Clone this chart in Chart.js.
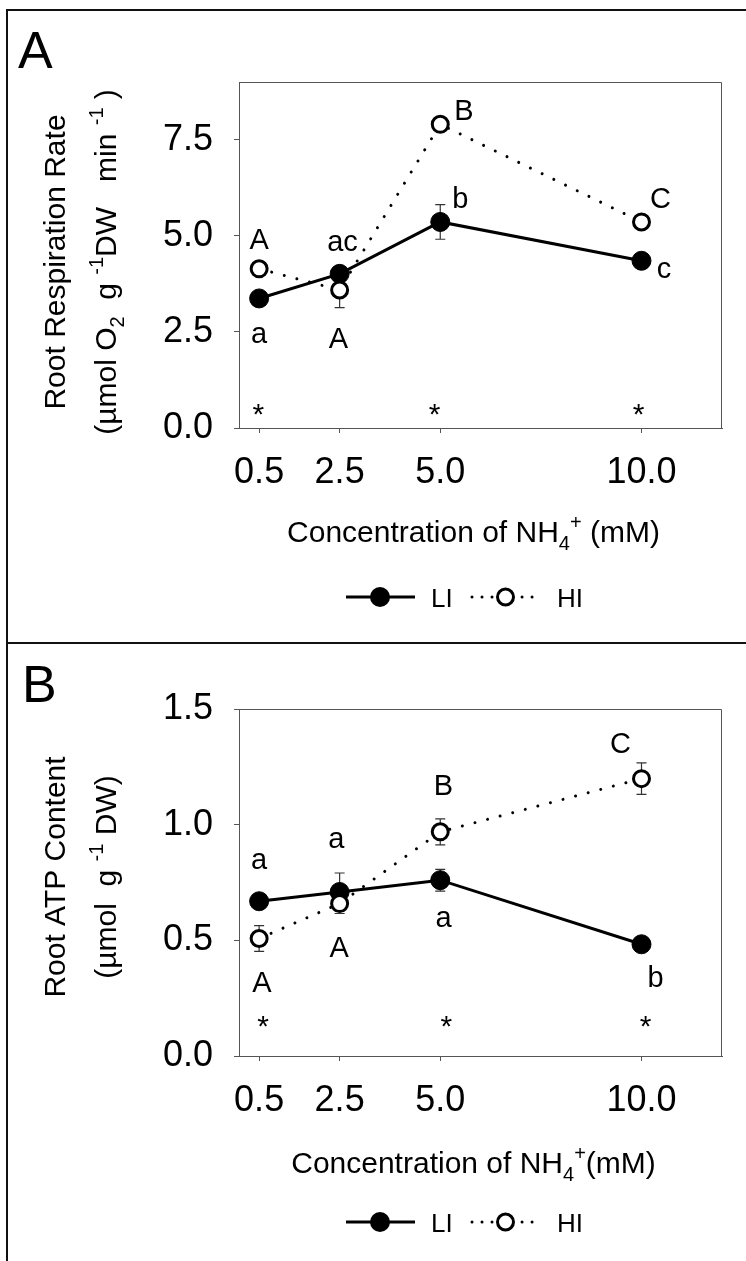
<!DOCTYPE html>
<html>
<head>
<meta charset="utf-8">
<script src="https://cdn.jsdelivr.net/npm/chart.js@4.4.1/dist/chart.umd.min.js"></script>
<style>
  html, body { margin: 0; padding: 0; background: #fff; }
  body { width: 746px; height: 1261px; position: relative; overflow: hidden; }
  .frame { position: absolute; left: 6px; top: 9px; width: 800px; height: 1300px; border-left: 2px solid #111; border-top: 2px solid #111; }
  .divider { position: absolute; left: 6px; top: 642px; width: 800px; height: 2px; background: #111; }
  canvas { position: absolute; left: 0; }
  #chart-a { top: 0; }
  #chart-b { top: 643px; }
</style>
</head>
<body>
<div class="frame"></div>
<div class="divider"></div>
<canvas id="chart-a" width="746" height="643"></canvas>
<canvas id="chart-b" width="746" height="618"></canvas>
<script>
const FONT = "'Liberation Sans', Arial, sans-serif";
const AXIS = "#555";

// NH4+ concentrations (mM), shared by both panels
const concentrations = [0.5, 2.5, 5.0, 10.0];
const xTickValues = [0.5, 2.5, 5.0, 10.0];

// A: root respiration rate
const respLI = [3.37, 4.01, 5.36, 4.35];
const respHI = [4.14, 3.59, 7.90, 5.36];
const respLIErr = [0.12, 0.15, 0.45, 0.10];
const respHIErr = [0.10, 0.46, 0.15, 0.12];
const respYTicks = [0, 2.5, 5.0, 7.5];
const respLetters = [
  ["A", 0.5, 4.66], ["ac", 2.57, 4.61], ["a", 0.5, 2.22], ["A", 2.47, 2.09],
  ["B", 5.59, 8.01], ["b", 5.5, 5.73], ["C", 10.47, 5.73], ["c", 10.56, 3.91],
];
const respStars = [[0.48, 0.1], [4.86, 0.1], [9.93, 0.1]];

// B: root ATP content
const atpLI = [0.669, 0.709, 0.760, 0.483];
const atpHI = [0.508, 0.659, 0.969, 1.199];
const atpLIErr = [0.02, 0.082, 0.047, 0.02];
const atpHIErr = [0.056, 0.043, 0.056, 0.068];
const atpYTicks = [0, 0.5, 1.0, 1.5];
const atpLetters = [
  ["a", 0.5, 0.81], ["a", 2.42, 0.898], ["A", 0.57, 0.278], ["A", 2.49, 0.427],
  ["B", 5.08, 1.127], ["a", 5.08, 0.557], ["C", 9.48, 1.309], ["b", 10.35, 0.297],
];
const atpStars = [[0.6, 0.085], [5.15, 0.085], [10.1, 0.085]];

const sub = (t) => ({ t, sub: true });
const sup = (t) => ({ t, sup: true });

// draws a run of text with sub/superscripts, centred on (x, y)
function drawRich(ctx, parts, size, x, y, angle) {
  const small = Math.round(size * 0.65);
  const items = parts.map((p) => (typeof p === "string" ? { t: p } : p));
  const fontFor = (p) => `${p.sub || p.sup ? small : size}px ${FONT}`;
  ctx.save();
  ctx.translate(x, y);
  ctx.rotate(angle);
  ctx.textAlign = "left";
  ctx.textBaseline = "alphabetic";
  ctx.fillStyle = "#000";
  let total = 0;
  for (const p of items) {
    ctx.font = fontFor(p);
    total += ctx.measureText(p.t).width;
  }
  let cx = -total / 2;
  for (const p of items) {
    ctx.font = fontFor(p);
    const dy = p.sub ? size * 0.25 : p.sup ? -size * 0.42 : 0;
    ctx.fillText(p.t, cx, dy);
    cx += ctx.measureText(p.t).width;
  }
  ctx.restore();
}

function drawLegend(ctx, y) {
  ctx.save();
  ctx.strokeStyle = "#000";
  ctx.lineWidth = 3;
  ctx.beginPath();
  ctx.moveTo(346, y);
  ctx.lineTo(415, y);
  ctx.stroke();
  ctx.fillStyle = "#000";
  ctx.beginPath();
  ctx.arc(380, y, 10, 0, Math.PI * 2);
  ctx.fill();

  ctx.setLineDash([0.01, 10]);
  ctx.lineCap = "round";
  ctx.beginPath();
  ctx.moveTo(472, y);
  ctx.lineTo(535, y);
  ctx.stroke();
  ctx.setLineDash([]);
  ctx.fillStyle = "#fff";
  ctx.beginPath();
  ctx.arc(505.5, y, 8, 0, Math.PI * 2);
  ctx.fill();
  ctx.stroke();

  ctx.fillStyle = "#000";
  ctx.font = `26px ${FONT}`;
  ctx.textBaseline = "alphabetic";
  ctx.fillText("LI", 431, y + 9.5);
  ctx.fillText("HI", 557, y + 9.5);
  ctx.restore();
}

function buildPanel(canvasId, spec) {
  const canvas = document.getElementById(canvasId);

  const decor = {
    id: "panelDecor",
    beforeDatasetsDraw(chart) {
      const { ctx, scales: { x, y } } = chart;
      ctx.save();
      ctx.strokeStyle = "#333";
      ctx.lineWidth = 1.2;
      [[spec.li, spec.liErr], [spec.hi, spec.hiErr]].forEach(([vals, errs]) => {
        vals.forEach((v, i) => {
          const px = x.getPixelForValue(concentrations[i]);
          const top = y.getPixelForValue(v + errs[i]);
          const bot = y.getPixelForValue(v - errs[i]);
          ctx.beginPath();
          ctx.moveTo(px, top);
          ctx.lineTo(px, bot);
          ctx.moveTo(px - 5, top);
          ctx.lineTo(px + 5, top);
          ctx.moveTo(px - 5, bot);
          ctx.lineTo(px + 5, bot);
          ctx.stroke();
        });
      });
      ctx.restore();
    },
    afterDraw(chart) {
      const { ctx, chartArea: area, scales: { x, y } } = chart;
      ctx.save();
      // top and right sides of the plot box
      ctx.strokeStyle = AXIS;
      ctx.lineWidth = 1;
      const l = Math.round(area.left) + 0.5;
      const t = Math.round(area.top) + 0.5;
      const r = Math.round(area.right) - 0.5;
      const b = Math.round(area.bottom) + 0.5;
      ctx.beginPath();
      ctx.moveTo(l, t);
      ctx.lineTo(r, t);
      ctx.lineTo(r, b);
      ctx.stroke();

      ctx.fillStyle = "#000";
      ctx.textAlign = "center";
      ctx.textBaseline = "alphabetic";
      ctx.font = `29px ${FONT}`;
      for (const [txt, lx, ly] of spec.letters) {
        ctx.fillText(txt, x.getPixelForValue(lx), y.getPixelForValue(ly));
      }
      ctx.font = `30px ${FONT}`;
      for (const [sx, sy] of spec.stars) {
        ctx.fillText("*", x.getPixelForValue(sx), y.getPixelForValue(sy));
      }

      ctx.textAlign = "left";
      ctx.font = `52px ${FONT}`;
      ctx.fillText(spec.panelLabel, spec.panelLabelPos[0], spec.panelLabelPos[1]);
      ctx.restore();

      drawRich(ctx, spec.yTitle[0], 30, 65, spec.yTitleY, -Math.PI / 2);
      drawRich(ctx, spec.yTitle[1], 30, 116, spec.yTitleY, -Math.PI / 2);
      drawRich(ctx, spec.xTitle, 30, (area.left + area.right) / 2 - 7, spec.xTitleBaseline, 0);
      drawLegend(ctx, spec.legendY);
    },
  };

  return new Chart(canvas, {
    type: "line",
    data: {
      datasets: [
        {
          label: "LI",
          data: concentrations.map((c, i) => ({ x: c, y: spec.li[i] })),
          borderColor: "#000",
          borderWidth: 3,
          pointRadius: 9.5,
          pointBorderWidth: 1,
          pointBackgroundColor: "#000",
          pointBorderColor: "#000",
          order: 1,
        },
        {
          label: "HI",
          data: concentrations.map((c, i) => ({ x: c, y: spec.hi[i] })),
          borderColor: "#000",
          borderWidth: 3,
          borderDash: [0.01, 13],
          borderCapStyle: "round",
          pointRadius: 8,
          pointBorderWidth: 3,
          pointBackgroundColor: "#fff",
          pointBorderColor: "#000",
          order: 0,
        },
      ],
    },
    options: {
      responsive: false,
      animation: false,
      devicePixelRatio: 1,
      events: [],
      layout: { padding: { top: spec.padTop, right: 24, bottom: 0, left: 0 } },
      scales: {
        x: {
          type: "linear",
          min: 0,
          max: 12,
          afterBuildTicks: (s) => { s.ticks = xTickValues.map((v) => ({ value: v })); },
          afterFit: (s) => { s.height = spec.xAxisHeight; },
          ticks: {
            color: "#000",
            font: { size: 36, family: FONT },
            padding: 18,
            maxRotation: 0,
            autoSkip: false,
            callback: (v) => Number(v).toFixed(1),
          },
          grid: { drawOnChartArea: false, tickLength: 5, color: AXIS },
          border: { color: AXIS, width: 1 },
        },
        y: {
          min: 0,
          max: spec.yMax,
          afterBuildTicks: (s) => { s.ticks = spec.yTicks.map((v) => ({ value: v })); },
          afterFit: (s) => { s.width = 239; },
          ticks: {
            color: "#000",
            font: { size: 36, family: FONT },
            padding: 21,
            callback: (v) => Number(v).toFixed(1),
          },
          grid: { drawOnChartArea: false, tickLength: 5, color: AXIS },
          border: { color: AXIS, width: 1 },
        },
      },
      plugins: {
        legend: { display: false },
        tooltip: { enabled: false },
      },
    },
    plugins: [decor],
  });
}

buildPanel("chart-a", {
  yMax: 9,
  yTicks: respYTicks,
  li: respLI, hi: respHI, liErr: respLIErr, hiErr: respHIErr,
  letters: respLetters, stars: respStars,
  padTop: 82, xAxisHeight: 215,
  panelLabel: "A", panelLabelPos: [18, 68],
  yTitle: [
    ["Root Respiration Rate"],
    ["(\u00B5mol O", sub("2"), "  g ", sup("-1"), "DW   min ", sup("-1"), " )"],
  ],
  yTitleY: 262,
  xTitle: ["Concentration of NH", sub("4"), sup("+"), " (mM)"],
  xTitleBaseline: 542,
  legendY: 597,
});

buildPanel("chart-b", {
  yMax: 1.5,
  yTicks: atpYTicks,
  li: atpLI, hi: atpHI, liErr: atpLIErr, hiErr: atpHIErr,
  letters: atpLetters, stars: atpStars,
  padTop: 66, xAxisHeight: 205,
  panelLabel: "B", panelLabelPos: [22, 59],
  yTitle: [
    ["Root ATP Content"],
    ["(\u00B5mol  g ", sup("-1"), " DW)"],
  ],
  yTitleY: 234,
  xTitle: ["Concentration of NH", sub("4"), sup("+"), "(mM)"],
  xTitleBaseline: 530,
  legendY: 579,
});
</script>
</body>
</html>
